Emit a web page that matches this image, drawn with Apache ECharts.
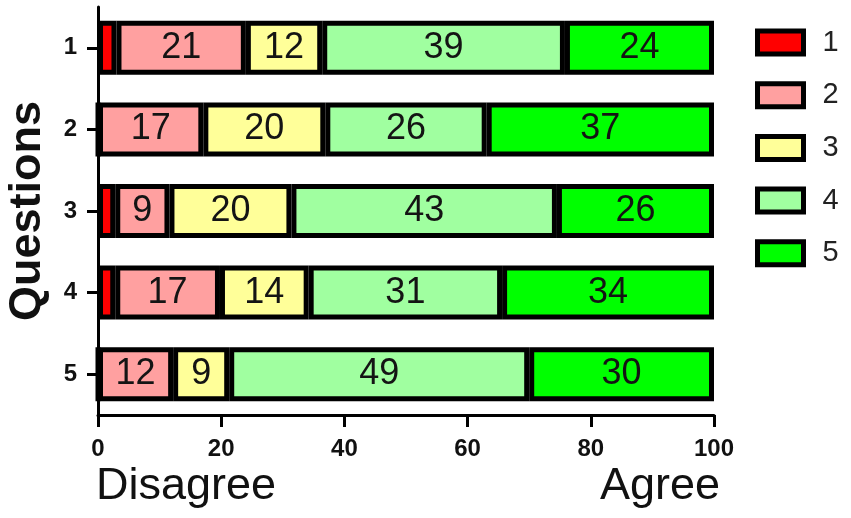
<!DOCTYPE html>
<html>
<head>
<meta charset="utf-8">
<script src="https://cdn.jsdelivr.net/npm/echarts@6/dist/echarts.min.js"></script>
<style>
  html, body { margin: 0; padding: 0; background: #fff; }
  #chart { width: 851px; height: 518px; }
</style>
</head>
<body>
<div id="chart"></div>
<script>
  // questions on the y axis, top to bottom
  const questions = ['1', '2', '3', '4', '5'];
  const levels = ['1', '2', '3', '4', '5'];
  const xTicks = [0, 20, 40, 60, 80, 100];

  // share of answers per level (%)
  const level1 = [3.0, 0, 2.8, 2.8, 0];
  const level2 = [21.0, 17.1, 8.8, 17.0, 12.2];
  const level3 = [12.4, 19.8, 19.8, 14.4, 9.1];
  const level4 = [39.4, 26.2, 43.1, 31.4, 48.7];
  const level5 = [24.2, 36.9, 25.5, 34.4, 30.0];

  const levelData = [level1, level2, level3, level4, level5];
  const colors = ['#ff0000', '#ffa0a0', '#ffff99', '#a0ffa0', '#00ff00'];

  const chart = echarts.init(document.getElementById('chart'));

  const series = levels.map((name, i) => ({
    name: name,
    type: 'bar',
    stack: 'total',
    barWidth: 54,
    itemStyle: {
      color: colors[i],
      borderColor: '#000',
      borderWidth: 5,
    },
    label: {
      show: true,
      position: 'inside',
      color: '#141414',
      fontSize: 36,
      fontFamily: 'Liberation Sans',
      formatter: p => (p.value >= 5 ? String(Math.round(p.value)) : ''),
    },
    data: levelData[i],
  }));

  chart.setOption({
    backgroundColor: '#fff',
    animation: false,
    grid: {
      left: 98,
      right: 137,
      top: 7,
      bottom: 103,
      containLabel: false,
      outerBoundsMode: 'none',
    },
    legend: {
      orient: 'vertical',
      left: 750,
      top: 23,
      itemWidth: 46,
      itemHeight: 23,
      itemGap: 23.7,
      icon: 'rect',
      itemStyle: {
        borderColor: '#000',
        borderWidth: 5,
      },
      textStyle: {
        fontSize: 29,
        lineHeight: 23,
        color: '#222',
        fontFamily: 'Liberation Sans',
        padding: [0, 0, 0, 14],
      },
      data: levels,
    },
    xAxis: {
      type: 'value',
      min: xTicks[0],
      max: xTicks[xTicks.length - 1],
      interval: 20,
      axisLine: {show: true, lineStyle: {color: '#000', width: 3}},
      axisTick: {show: true, length: 12, lineStyle: {color: '#000', width: 3}},
      axisLabel: {
        margin: 22,
        fontSize: 24,
        fontWeight: 'bold',
        color: '#111',
        fontFamily: 'Liberation Sans',
      },
      splitLine: {show: false},
    },
    yAxis: {
      type: 'category',
      inverse: true,
      data: questions,
      name: 'Questions',
      nameLocation: 'middle',
      nameRotate: 90,
      nameGap: 48,
      nameTextStyle: {
        fontSize: 45,
        fontWeight: 'bold',
        color: '#111',
        fontFamily: 'Liberation Sans',
      },
      axisLine: {show: true, lineStyle: {color: '#000', width: 3}},
      axisTick: {show: true, alignWithLabel: true, length: 11, lineStyle: {color: '#000', width: 3}},
      axisLabel: {
        margin: 21,
        fontSize: 24,
        fontWeight: 'bold',
        color: '#111',
        fontFamily: 'Liberation Sans',
      },
    },
    graphic: [
      {
        type: 'text',
        left: 96,
        top: 464,
        style: {text: 'Disagree', fontSize: 45, fill: '#111', fontFamily: 'Liberation Sans'},
      },
      {
        type: 'text',
        right: 131,
        top: 464,
        style: {text: 'Agree', fontSize: 45, fill: '#111', fontFamily: 'Liberation Sans'},
      },
    ],
    series: series,
  });
</script>
</body>
</html>
